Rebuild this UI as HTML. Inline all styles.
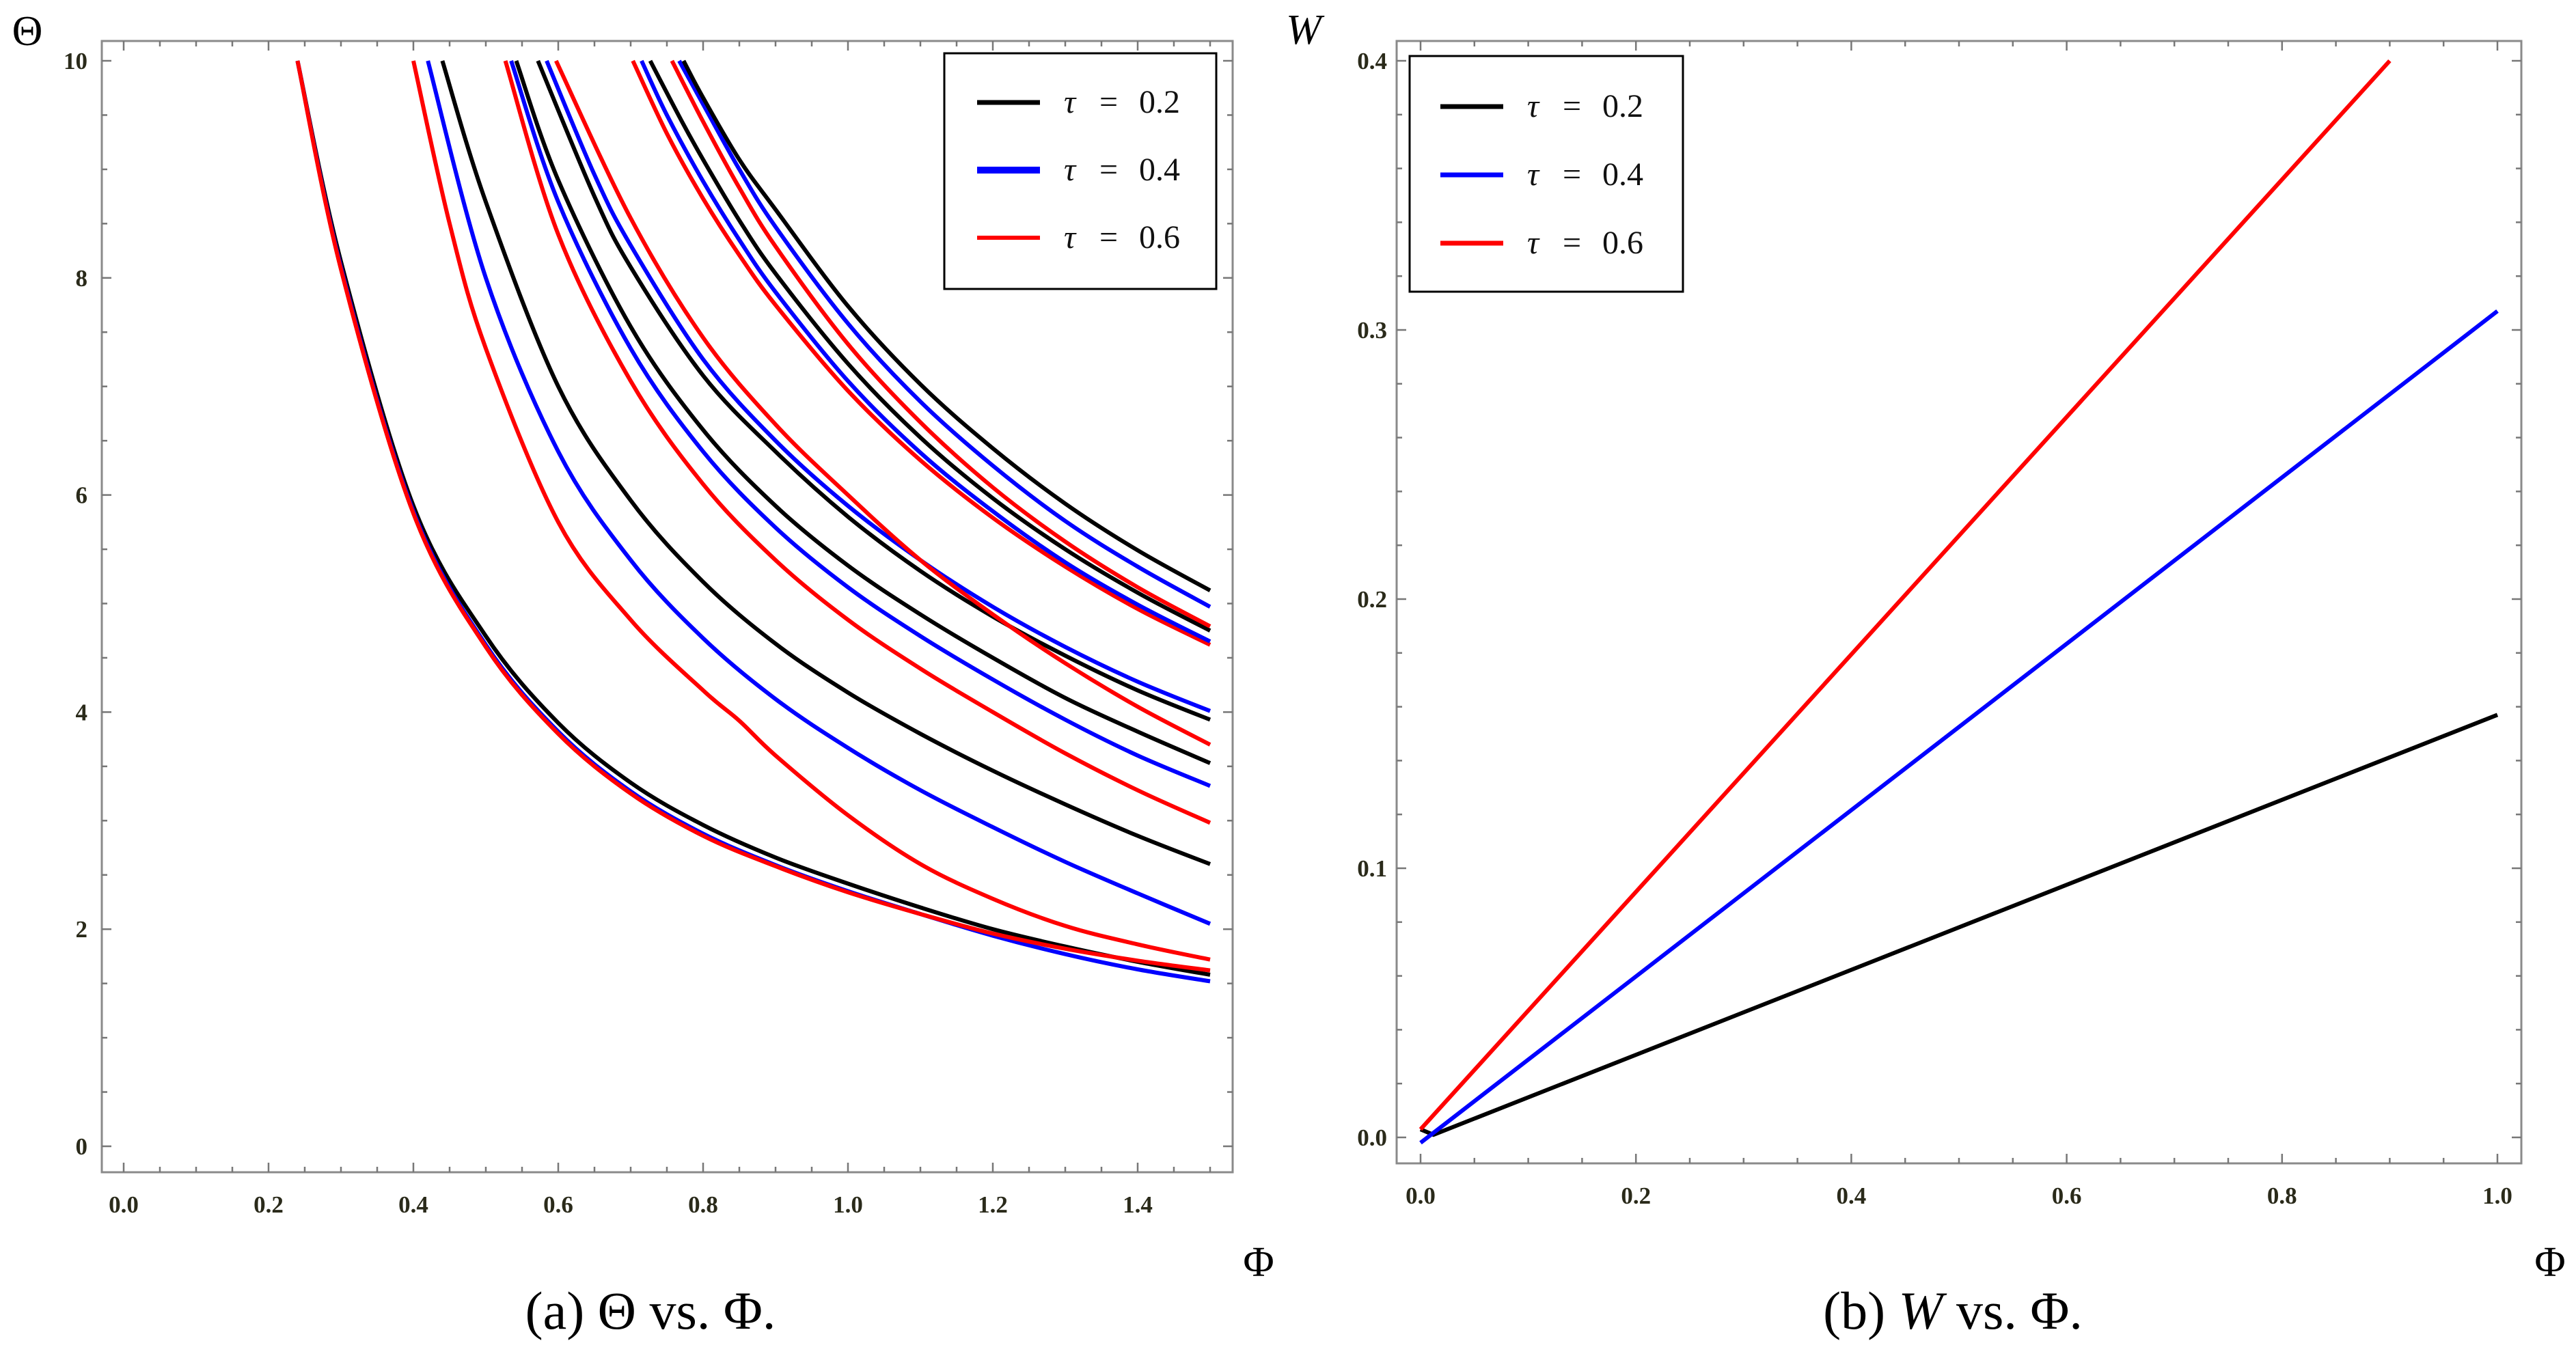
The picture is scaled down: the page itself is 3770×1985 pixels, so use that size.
<!DOCTYPE html>
<html><head><meta charset="utf-8"><style>
html,body{margin:0;padding:0;background:#fff;}
svg text{font-family:"Liberation Serif",serif;}
</style></head><body>
<svg id="fig" width="3770" height="1980" viewBox="0 0 3770 1980" xmlns="http://www.w3.org/2000/svg">
<g id="left"></g>
<g id="right"></g>
<text x="40" y="66" font-size="62" text-anchor="middle">Θ</text>
<text x="1908" y="64" font-size="62" font-style="italic" text-anchor="middle">W</text>
<text x="1842" y="1868" font-size="62" text-anchor="middle">Φ</text>
<text x="3732" y="1868" font-size="62" text-anchor="middle">Φ</text>
<text x="952" y="1945" font-size="78" text-anchor="middle">(a) Θ vs. Φ.</text>
<text x="2858" y="1945" font-size="78" text-anchor="middle">(b) <tspan font-style="italic">W</tspan> vs. Φ.</text>
</svg>
<script>
const NS="http://www.w3.org/2000/svg";
// ---- Left chart data ----
const leftXTicks=[0.0,0.2,0.4,0.6,0.8,1.0,1.2,1.4];
const leftXLabels=["0.0","0.2","0.4","0.6","0.8","1.0","1.2","1.4"];
const leftYTicks=[0,2,4,6,8,10];
const leftYLabels=["0","2","4","6","8","10"];
const curveColor=["#000","#00f","#f00","#f00","#00f","#000","#f00","#00f","#000","#000","#00f","#f00","#f00","#00f","#000","#f00","#00f","#000"];
const curvePhi=[
[0.24,0.3,0.4,0.5,0.6,0.7,0.8,0.9,1.0,1.1,1.2,1.3,1.4,1.5],
[0.24,0.3,0.4,0.5,0.6,0.7,0.8,0.9,1.0,1.1,1.2,1.3,1.4,1.5],
[0.24,0.3,0.4,0.5,0.6,0.7,0.8,0.9,1.0,1.1,1.2,1.3,1.4,1.5],
[0.40,0.45,0.5,0.6,0.7,0.8,0.85,0.9,1.0,1.1,1.2,1.3,1.4,1.5],
[0.42,0.5,0.6,0.7,0.8,0.9,1.0,1.1,1.2,1.3,1.4,1.5],
[0.44,0.5,0.6,0.7,0.8,0.9,1.0,1.1,1.2,1.3,1.4,1.5],
[0.527,0.6,0.7,0.8,0.9,1.0,1.1,1.2,1.3,1.4,1.5],
[0.535,0.6,0.7,0.8,0.9,1.0,1.1,1.2,1.3,1.4,1.5],
[0.542,0.6,0.7,0.8,0.9,1.0,1.1,1.2,1.3,1.4,1.5],
[0.572,0.65,0.7,0.8,0.9,1.0,1.1,1.2,1.3,1.4,1.5],
[0.584,0.65,0.7,0.8,0.9,1.0,1.1,1.2,1.3,1.4,1.5],
[0.597,0.7,0.8,0.9,1.0,1.1,1.2,1.3,1.4,1.5],
[0.703,0.75,0.8,0.85,0.9,1.0,1.1,1.2,1.3,1.4,1.5],
[0.715,0.75,0.8,0.85,0.9,1.0,1.1,1.2,1.3,1.4,1.5],
[0.727,0.77,0.8,0.85,0.9,1.0,1.1,1.2,1.3,1.4,1.5],
[0.757,0.8,0.85,0.9,1.0,1.1,1.2,1.3,1.4,1.5],
[0.767,0.8,0.85,0.9,1.0,1.1,1.2,1.3,1.4,1.5],
[0.773,0.8,0.85,0.9,1.0,1.1,1.2,1.3,1.4,1.5]];
const curveTheta=[
[10,8.15,5.9,4.7,3.9,3.35,2.96,2.66,2.42,2.2,2.0,1.84,1.7,1.58],
[10,8.1,5.85,4.62,3.82,3.27,2.88,2.59,2.35,2.14,1.94,1.77,1.63,1.52],
[10,8.08,5.83,4.6,3.8,3.25,2.86,2.58,2.34,2.14,1.96,1.82,1.71,1.62],
[10,8.5,7.35,5.75,4.85,4.2,3.92,3.6,3.05,2.6,2.28,2.03,1.86,1.72],
[10,8.0,6.4,5.4,4.68,4.12,3.67,3.28,2.94,2.62,2.33,2.05],
[10,8.7,7.0,5.95,5.2,4.63,4.18,3.8,3.46,3.15,2.86,2.6],
[10,8.4,7.05,6.1,5.4,4.85,4.4,4.0,3.62,3.28,2.98],
[10,8.7,7.35,6.4,5.7,5.15,4.7,4.3,3.93,3.6,3.32],
[10,8.9,7.55,6.6,5.9,5.35,4.9,4.5,4.13,3.82,3.53],
[10,8.75,8.1,7.1,6.4,5.8,5.3,4.88,4.52,4.2,3.93],
[10,8.95,8.3,7.25,6.5,5.9,5.4,4.97,4.6,4.28,4.01],
[10,8.55,7.45,6.65,6.0,5.4,4.9,4.45,4.05,3.70],
[10,9.33,8.73,8.21,7.75,6.96,6.32,5.79,5.34,4.95,4.62],
[10,9.5,8.89,8.35,7.87,7.05,6.39,5.85,5.38,4.99,4.65],
[10,9.45,9.09,8.53,8.04,7.21,6.53,5.97,5.5,5.1,4.75],
[10,9.44,8.83,8.29,7.39,6.67,6.07,5.57,5.15,4.79],
[10,9.6,9.0,8.47,7.58,6.86,6.27,5.76,5.34,4.97],
[10,9.66,9.09,8.63,7.74,7.02,6.43,5.92,5.49,5.12]];
const legendNumbers=["0.2","0.4","0.6"];
const legendColors=["#000","#00f","#f00"];
// ---- Right chart data ----
const rightXTicks=[0.0,0.2,0.4,0.6,0.8,1.0];
const rightXLabels=["0.0","0.2","0.4","0.6","0.8","1.0"];
const rightYTicks=[0.0,0.1,0.2,0.3,0.4];
const rightYLabels=["0.0","0.1","0.2","0.3","0.4"];
const wColor=["#000","#00f","#f00"];
const wPhi=[[0,0.012,1.0],[0,1.0],[0,0.9]];
const wValue=[[0.003,0.001,0.157],[-0.002,0.307],[0.003,0.40]];

function el(tag,attrs,parent){const e=document.createElementNS(NS,tag);for(const k in attrs)e.setAttribute(k,attrs[k]);parent.appendChild(e);return e;}
function smoothPath(pts){
  let d="M"+pts[0][0].toFixed(1)+","+pts[0][1].toFixed(1);
  for(let i=0;i<pts.length-1;i++){
    const p0=pts[i-1]||pts[i],p1=pts[i],p2=pts[i+1],p3=pts[i+2]||p2;
    const c1=[p1[0]+(p2[0]-p0[0])/6,p1[1]+(p2[1]-p0[1])/6];
    const c2=[p2[0]-(p3[0]-p1[0])/6,p2[1]-(p3[1]-p1[1])/6];
    d+=" C"+c1[0].toFixed(1)+","+c1[1].toFixed(1)+" "+c2[0].toFixed(1)+","+c2[1].toFixed(1)+" "+p2[0].toFixed(1)+","+p2[1].toFixed(1);
  }
  return d;
}
function frame(g,f,sx,sy,xt,xl,yt,yl,xMinor,yMinor,xMax,yMax,yMin,xLabY,yLabX){
  const r=el("rect",{x:f.l,y:f.t,width:f.r-f.l,height:f.b-f.t,fill:"none",stroke:"#8a8a8a","stroke-width":3},g);
  
  
  for(let v=0;v<=xMax+1e-9;v+=xMinor){
    const major=xt.some(t=>Math.abs(t-v)<1e-6);const L=major?14:8;const x=sx(v);
    el("line",{x1:x,y1:f.b,x2:x,y2:f.b-L,stroke:"#777","stroke-width":2.5},g);
    el("line",{x1:x,y1:f.t,x2:x,y2:f.t+L,stroke:"#777","stroke-width":2.5},g);
  }
  for(let v=yMin;v<=yMax+1e-9;v+=yMinor){
    const major=yt.some(t=>Math.abs(t-v)<1e-6);const L=major?14:8;const y=sy(v);
    el("line",{x1:f.l,y1:y,x2:f.l+L,y2:y,stroke:"#777","stroke-width":2.5},g);
    el("line",{x1:f.r,y1:y,x2:f.r-L,y2:y,stroke:"#777","stroke-width":2.5},g);
  }
  xt.forEach((v,i)=>{const t=el("text",{x:sx(v),y:xLabY,"font-size":35,"font-weight":"bold","text-anchor":"middle",fill:"#2a2a1a"},g);t.textContent=xl[i];
    
    });
  yt.forEach((v,i)=>{const t=el("text",{x:yLabX,y:sy(v)+12,"font-size":35,"font-weight":"bold","text-anchor":"end",fill:"#2a2a1a"},g);t.textContent=yl[i];
    
    });
}
function legend(g,bx,by,bw,bh,lx,tx,ys,widths){
  const lg=el("g",{},g);
  
  
  el("rect",{x:bx,y:by,width:bw,height:bh,fill:"#fff",stroke:"#000","stroke-width":3},lg);
  legendNumbers.forEach((s,i)=>{
    const e=el("g",{},lg);
    
    
    el("line",{x1:lx,y1:ys[i],x2:lx+92,y2:ys[i],stroke:legendColors[i],"stroke-width":widths[i]},e);
    const t1=el("text",{x:tx,y:ys[i]+15,"font-size":48,"font-style":"italic",fill:"#111"},e);t1.textContent="τ";
    const t2=el("text",{x:tx+52,y:ys[i]+15,"font-size":48,fill:"#111"},e);t2.textContent="=";
    const t3=el("text",{x:tx+110,y:ys[i]+15,"font-size":48,fill:"#111"},e);t3.textContent=s;
  });
}
// Left chart
(function(){
  const g=document.getElementById("left");
  const f={l:149,t:60,r:1804,b:1716};
  const sx=v=>181+v*1060.0, sy=v=>1678-v*158.9;
  frame(g,f,sx,sy,leftXTicks,leftXLabels,leftYTicks,leftYLabels,0.05,0.5,1.5,10,0,1775,128);
  curvePhi.forEach((phis,i)=>{
    const pts=phis.map((p,j)=>[sx(p),sy(curveTheta[i][j])]);
    const p=el("path",{d:smoothPath(pts),fill:"none",stroke:curveColor[i],"stroke-width":6,"stroke-linejoin":"round"},g);
    
    
  });
  legend(g,1382,78,398,345,1430,1557,[150,249,348],[7,10,6]);
})();
// Right chart
(function(){
  const g=document.getElementById("right");
  const f={l:2044,t:60,r:3690,b:1703};
  const sx=v=>2079+v*1576, sy=v=>1665-v*3940;
  frame(g,f,sx,sy,rightXTicks,rightXLabels,rightYTicks,rightYLabels,0.05,0.02,1.0,0.4,0,1762,2030);
  wPhi.forEach((phis,i)=>{
    const pts=phis.map((p,j)=>sx(p).toFixed(1)+","+sy(wValue[i][j]).toFixed(1)).join(" ");
    const p=el("polyline",{points:pts,fill:"none",stroke:wColor[i],"stroke-width":6},g);
    
    
  });
  legend(g,2063,82,400,345,2108,2235,[156,256,356],[7,7,7]);
})();
</script>
</body></html>
